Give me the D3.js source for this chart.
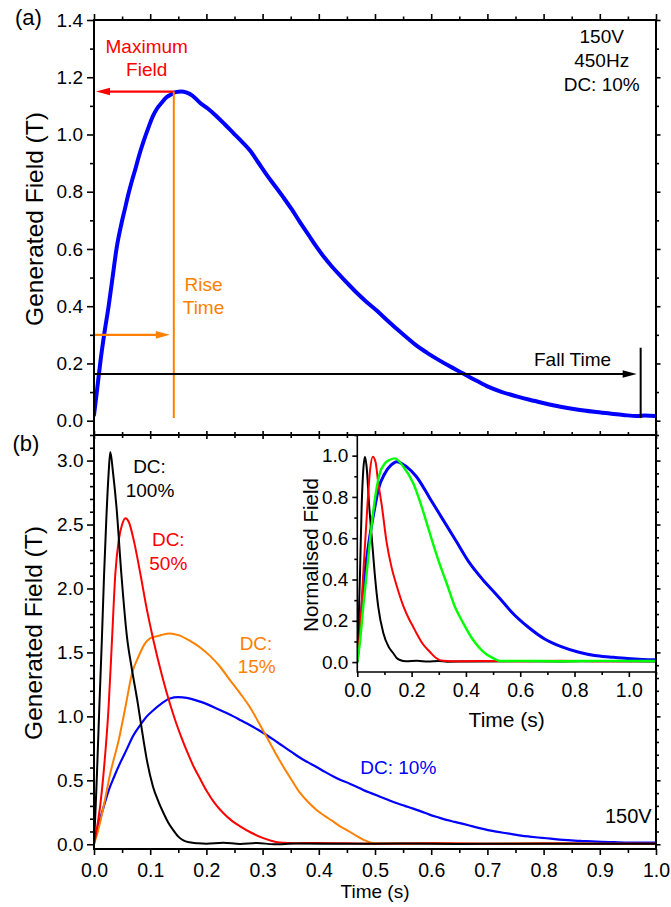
<!DOCTYPE html>
<html><head><meta charset="utf-8">
<script src="https://cdn.jsdelivr.net/npm/d3@7"></script>
<style>
body{margin:0;background:#fff}
svg{display:block}
text{font-family:"Liberation Sans",Arial,Helvetica,sans-serif}
</style></head><body><svg id="c" width="671" height="907"></svg>
<script>
// ---------- DATA ----------
// Panel (a): 150V, 450Hz, DC 10%
const timeA = [0,0.005,0.011,0.018,0.026,0.033,0.040,0.049,0.055,0.061,0.067,0.073,0.080,0.088,0.097,0.105,0.112,0.120,0.129,0.137,0.145,0.155,0.165,0.175,0.189,0.203,0.218,0.233,0.248,0.263,0.278,0.292,0.307,0.322,0.337,0.352,0.367,0.382,0.396,0.410,0.424,0.438,0.452,0.467,0.485,0.503,0.521,0.539,0.557,0.574,0.592,0.610,0.633,0.657,0.678,0.699,0.725,0.752,0.775,0.799,0.830,0.859,0.890,0.918,0.942,0.966,0.980,1.0];
const fieldA = [0.02,0.10,0.20,0.30,0.40,0.50,0.60,0.69,0.74,0.79,0.835,0.875,0.925,0.975,1.025,1.065,1.09,1.11,1.13,1.14,1.148,1.15,1.146,1.136,1.11,1.09,1.064,1.035,1.005,0.975,0.943,0.903,0.86,0.82,0.78,0.738,0.692,0.648,0.607,0.57,0.537,0.507,0.478,0.448,0.415,0.385,0.352,0.32,0.29,0.262,0.238,0.216,0.19,0.165,0.142,0.121,0.101,0.085,0.073,0.062,0.049,0.039,0.031,0.025,0.02,0.016,0.018,0.016];

// Panel (b): generated field for several duty cycles
const timeDC100 = [0,0.003,0.0053,0.0095,0.014,0.018,0.022,0.026,0.029,0.034,0.040,0.0486,0.0587,0.067,0.078,0.085,0.094,0.105,0.115,0.123,0.132,0.141,0.150,0.159,0.170,0.185,0.20,0.23,0.26,0.29,0.32,0.36,0.45,0.55,0.65,0.75,0.85,0.95,1.0];
const fieldDC100 = [0,0.30,0.555,1.075,1.60,2.117,2.55,2.90,3.067,2.90,2.637,2.117,1.62,1.38,1.10,0.90,0.66,0.45,0.33,0.25,0.17,0.11,0.06,0.03,0.015,0.008,0.005,0.012,0.003,0.01,0.0,0.006,0.004,0.006,0.003,0.005,0.004,0.005,0.004];

const timeDC50 = [0,0.011,0.017,0.026,0.032,0.038,0.044,0.050,0.0557,0.062,0.0706,0.0824,0.093,0.106,0.121,0.135,0.146,0.156,0.167,0.177,0.189,0.200,0.215,0.230,0.245,0.260,0.280,0.300,0.315,0.330,0.360,0.40,0.50,0.60,0.70,0.80,0.90,1.0];
const fieldDC50 = [0,0.30,0.555,1.075,1.596,2.117,2.377,2.50,2.55,2.52,2.38,2.117,1.86,1.59,1.32,1.10,0.95,0.83,0.71,0.61,0.51,0.42,0.32,0.245,0.185,0.14,0.09,0.05,0.028,0.014,0.008,0.01,0.005,0.008,0.004,0.006,0.005,0.005];

const timeDC15 = [0,0.008,0.017,0.029,0.044,0.056,0.0676,0.0795,0.090,0.0996,0.110,0.120,0.135,0.150,0.171,0.190,0.206,0.224,0.242,0.260,0.277,0.292,0.307,0.322,0.337,0.352,0.366,0.381,0.396,0.411,0.426,0.440,0.455,0.467,0.479,0.490,0.500,0.55,0.60,0.70,0.80,0.90,1.0];
const fieldDC15 = [0,0.12,0.294,0.555,0.815,1.075,1.336,1.47,1.565,1.61,1.625,1.637,1.648,1.635,1.59,1.535,1.475,1.39,1.284,1.18,1.075,0.96,0.841,0.72,0.606,0.50,0.405,0.33,0.268,0.22,0.177,0.135,0.098,0.065,0.036,0.016,0.007,0.005,0.008,0.004,0.007,0.004,0.005];

const timeDC10 = [0,0.008,0.017,0.026,0.036,0.047,0.058,0.070,0.082,0.094,0.106,0.120,0.135,0.150,0.165,0.189,0.204,0.218,0.233,0.248,0.262,0.277,0.292,0.307,0.322,0.337,0.352,0.366,0.381,0.396,0.411,0.426,0.440,0.455,0.467,0.479,0.494,0.509,0.524,0.538,0.553,0.568,0.583,0.597,0.612,0.627,0.642,0.657,0.672,0.686,0.701,0.716,0.731,0.746,0.760,0.775,0.790,0.805,0.820,0.835,0.865,0.894,0.925,0.953,0.975,1.0];
const fieldDC10 = [0.02,0.15,0.29,0.42,0.53,0.64,0.74,0.85,0.93,1.0,1.05,1.10,1.14,1.15,1.145,1.115,1.09,1.062,1.032,1.0,0.967,0.932,0.895,0.854,0.81,0.765,0.72,0.678,0.64,0.604,0.566,0.53,0.50,0.474,0.45,0.425,0.398,0.372,0.346,0.322,0.30,0.279,0.255,0.232,0.211,0.191,0.175,0.159,0.142,0.126,0.111,0.099,0.088,0.078,0.068,0.06,0.053,0.047,0.04,0.034,0.027,0.02,0.016,0.013,0.014,0.013];

// Inset: normalised field
const timeN100 = [0,0.005,0.010,0.016,0.022,0.028,0.034,0.044,0.054,0.064,0.077,0.096,0.115,0.132,0.145,0.157,0.18,0.22,0.26,0.30,0.33,0.45,0.6,0.75,0.9,1.1];
const normN100 = [0,0.20,0.431,0.753,0.93,0.995,0.95,0.753,0.592,0.431,0.269,0.14,0.075,0.044,0.02,0.01,0.004,0.006,0.003,0.005,0.002,0.003,0.004,0.003,0.004,0.003];
const timeN50 = [0,0.010,0.022,0.037,0.047,0.057,0.067,0.077,0.090,0.108,0.126,0.145,0.170,0.190,0.206,0.218,0.240,0.267,0.290,0.316,0.35,0.45,0.6,0.75,0.9,1.1];
const normN50 = [0,0.15,0.431,0.753,0.93,0.995,0.97,0.87,0.76,0.58,0.46,0.37,0.27,0.21,0.17,0.14,0.09,0.05,0.02,0.006,0.004,0.005,0.004,0.006,0.004,0.005];
const timeN15 = [0,0.010,0.022,0.047,0.061,0.083,0.102,0.120,0.139,0.169,0.206,0.237,0.267,0.298,0.329,0.359,0.390,0.426,0.463,0.500,0.525,0.6,0.75,0.9,1.1];
const normN15 = [0,0.10,0.269,0.592,0.753,0.915,0.963,0.98,0.987,0.947,0.866,0.753,0.624,0.495,0.382,0.269,0.189,0.108,0.051,0.019,0.005,0.006,0.004,0.006,0.005];
const timeN10 = [0,0.010,0.028,0.044,0.065,0.077,0.102,0.125,0.145,0.181,0.218,0.267,0.316,0.365,0.414,0.463,0.506,0.525,0.568,0.629,0.690,0.751,0.813,0.874,0.935,0.996,1.05,1.1];
const normN10 = [0.01,0.16,0.431,0.592,0.753,0.834,0.915,0.955,0.971,0.947,0.898,0.794,0.689,0.584,0.479,0.398,0.336,0.308,0.243,0.17,0.112,0.075,0.049,0.032,0.024,0.017,0.013,0.011];

// Ticks and labels
const yTicksA = [0,0.2,0.4,0.6,0.8,1.0,1.2,1.4];
const yTicksB = [0,0.5,1.0,1.5,2.0,2.5,3.0];
const xTicksB = [0,0.1,0.2,0.3,0.4,0.5,0.6,0.7,0.8,0.9,1.0];
const xTicksI = [0,0.2,0.4,0.6,0.8,1.0];
const yTicksI = [0,0.2,0.4,0.6,0.8,1.0];

// Annotation values (panel a)
const maxField = 1.15, tPeak = 0.142, riseLevel = 0.30, fallLevel = 0.163, tFall = 0.9727;

// ---------- DRAW ----------
const svg = d3.select('#c');
const fmt = d3.format('.1f');
const BLUE='#0000ff', RED='#ff0000', ORANGE='#ff8000', GREEN='#00ff00', BLACK='#000000';

const xA = d3.scaleLinear().domain([0,1]).range([94,656]);
const yA = d3.scaleLinear().domain([-0.05,1.4]).range([435,20]);
const xB = d3.scaleLinear().domain([0,1]).range([94,656]);
const yB = d3.scaleLinear().domain([-0.037,3.2]).range([849,435]);
const xI = d3.scaleLinear().domain([0,1.1]).range([357.3,656]);
const yI = d3.scaleLinear().domain([-0.048,1.1]).range([672,435]);

const defs = svg.append('defs');
function clip(id,x0,y0,x1,y1){
  defs.append('clipPath').attr('id',id).append('rect')
    .attr('x',x0).attr('y',y0).attr('width',x1-x0).attr('height',y1-y0);
}
clip('ca',94,20,656,435); clip('cb',94,435,656,849); clip('ci',357.3,435,656,672);

function minorsOf(scale, step){
  const d = scale.domain(); const out=[];
  for(let v=Math.ceil(d[0]/step-1e-9)*step; v<=d[1]+1e-9; v+=step) out.push(+v.toFixed(4));
  return out;
}
function axis(gen, scale, majors, minStep, majLen, minLen, tx, ty, labels, pad, fs){
  const mins = minorsOf(scale,minStep).filter(v=>!majors.some(m=>Math.abs(m-v)<1e-6));
  const g1 = svg.append('g').attr('transform',`translate(${tx},${ty})`)
    .call(gen(scale).tickValues(mins).tickSize(minLen).tickFormat(''));
  const g2 = svg.append('g').attr('transform',`translate(${tx},${ty})`)
    .call(gen(scale).tickValues(majors).tickSize(majLen).tickPadding(pad||3)
      .tickFormat(labels? fmt : ''));
  [g1,g2].forEach(g=>{ g.select('.domain').remove();
    g.selectAll('.tick line').attr('stroke','#000').attr('stroke-width',1.6);
    g.selectAll('.tick text').attr('font-size',fs||19).attr('fill','#000')
      .attr('font-family','"Liberation Sans",Arial,sans-serif');});
}

function line(xs,ys,tArr,vArr,color,w,clipId){
  const data = tArr.map((t,i)=>[t,vArr[i]]);
  svg.append('path').datum(data)
    .attr('clip-path',`url(#${clipId})`)
    .attr('fill','none').attr('stroke',color).attr('stroke-width',w)
    .attr('stroke-linejoin','round').attr('stroke-linecap','round')
    .attr('d', d3.line().x(d=>xs(d[0])).y(d=>ys(d[1])).curve(d3.curveMonotoneX));
}

function arrow(x1,y1,x2,y2,color,w){
  svg.append('line').attr('x1',x1).attr('y1',y1).attr('x2',x2 - Math.sign(x2-x1)*8).attr('y2',y2)
    .attr('stroke',color).attr('stroke-width',w);
  const dir = Math.sign(x2-x1), L=14, hw=3.8;
  svg.append('path').attr('fill',color)
    .attr('d',`M${x2},${y2} L${x2-dir*L},${y2-hw} L${x2-dir*L},${y2+hw} Z`);
}

function txt(x,y,s,color,fs,anchor){
  svg.append('text').attr('x',x).attr('y',y).text(s)
    .style('fill',color).attr('font-size',fs).attr('text-anchor',anchor||'middle');
}

// ----- Panel (a) -----
line(xA,yA,timeA,fieldA,BLUE,4,'ca');

arrow(xA(tPeak), yA(maxField), xA(0)+2, yA(maxField), RED, 2.2);
svg.append('line').attr('x1',xA(tPeak)).attr('x2',xA(tPeak))
  .attr('y1',yA(maxField)).attr('y2',yA(0.009)).attr('stroke',ORANGE).attr('stroke-width',2);
arrow(xA(0)+1, yA(riseLevel), xA(tPeak)-4, yA(riseLevel), ORANGE, 2.2);
arrow(xA(0), yA(fallLevel), xA(tFall)-4, yA(fallLevel), BLACK, 2);
svg.append('line').attr('x1',xA(tFall)).attr('x2',xA(tFall))
  .attr('y1',yA(0.255)).attr('y2',yA(0.009)).attr('stroke',BLACK).attr('stroke-width',2);

txt(146.7,52.7,'Maximum',RED,19); txt(146.7,76,'Field',RED,19);
txt(203.5,290.5,'Rise',ORANGE,19); txt(203.5,314,'Time',ORANGE,19);
txt(534,365.5,'Fall Time',BLACK,19,'start');
txt(601.7,42.7,'150V',BLACK,19); txt(601.7,66.7,'450Hz',BLACK,19); txt(601.7,90.7,'DC: 10%',BLACK,19);

axis(d3.axisLeft, yA, yTicksA, 0.1, 7, 4, 94, 0, true, 4, 19);
axis(d3.axisRight, yA, yTicksA, 0.1, 4.5, 3, 656, 0, false);
axis(d3.axisTop, xA, xTicksB, 0.05, 6, 3.5, 0, 20, false);
axis(d3.axisBottom, xA, xTicksB, 0.05, 4, 3, 0, 435, false);

// ----- Panel (b) -----
line(xB,yB,timeDC10,fieldDC10,BLUE,2.2,'cb');
line(xB,yB,timeDC15,fieldDC15,ORANGE,2,'cb');
line(xB,yB,timeDC50,fieldDC50,RED,2,'cb');
line(xB,yB,timeDC100,fieldDC100,BLACK,2,'cb');

txt(149.5,473.3,'DC:',BLACK,19); txt(150,497.3,'100%',BLACK,19);
txt(168.3,546,'DC:',RED,19); txt(168.3,570,'50%',RED,19);
txt(256,650,'DC:',ORANGE,19); txt(256.7,672.7,'15%',ORANGE,19);
txt(398.3,774,'DC: 10%',BLUE,19);
txt(628.3,822.7,'150V',BLACK,20);

axis(d3.axisLeft, yB, yTicksB, 0.1, 7, 4, 94, 0, true, 3.5, 19);
axis(d3.axisRight, yB, yTicksB, 0.1, 4.5, 3, 656, 0, false);
axis(d3.axisTop, xB, xTicksB, 0.05, 4, 3, 0, 435, false);
axis(d3.axisBottom, xB, xTicksB, 0.05, 6, 4, 0, 849, true, 8.5, 19.5);

// ----- Inset -----
svg.append('rect').attr('x',357.3).attr('y',435).attr('width',656-357.3).attr('height',672-435)
  .attr('fill','#fff');
line(xI,yI,timeN10,normN10,BLUE,3,'ci');
line(xI,yI,timeN100,normN100,BLACK,2,'ci');
line(xI,yI,timeN50,normN50,RED,2,'ci');
line(xI,yI,timeN15,normN15,GREEN,2.4,'ci');
svg.append('path').attr('d','M357.3,435 V672 H656').attr('fill','none').attr('stroke','#000').attr('stroke-width',1.6);
axis(d3.axisLeft, yI, yTicksI, 0.1, 5, 3, 357.3, 0, true, 4, 19);
axis(d3.axisBottom, xI, xTicksI, 0.1, 5, 3, 0, 672, true, 6.5, 19.5);

// frames
svg.append('rect').attr('x',94).attr('y',20).attr('width',562).attr('height',415)
  .attr('fill','none').attr('stroke','#000').attr('stroke-width',2);
svg.append('rect').attr('x',94).attr('y',435).attr('width',562).attr('height',414)
  .attr('fill','none').attr('stroke','#000').attr('stroke-width',2);

// axis titles
svg.append('text').attr('transform','translate(43,219) rotate(-90)').attr('text-anchor','middle')
  .attr('font-size',24.5).style('fill','#000').text('Generated Field (T)');
svg.append('text').attr('transform','translate(42,633) rotate(-90)').attr('text-anchor','middle')
  .attr('font-size',24.5).style('fill','#000').text('Generated Field (T)');
svg.append('text').attr('transform','translate(318,555) rotate(-90)').attr('text-anchor','middle')
  .attr('font-size',20.5).style('fill','#000').text('Normalised Field');
txt(506.7,727,'Time (s)',BLACK,21);
txt(375,898,'Time (s)',BLACK,19);

txt(15,25,'(a)',BLACK,22,'start');
txt(12.5,451,'(b)',BLACK,22,'start');
</script></body></html>
